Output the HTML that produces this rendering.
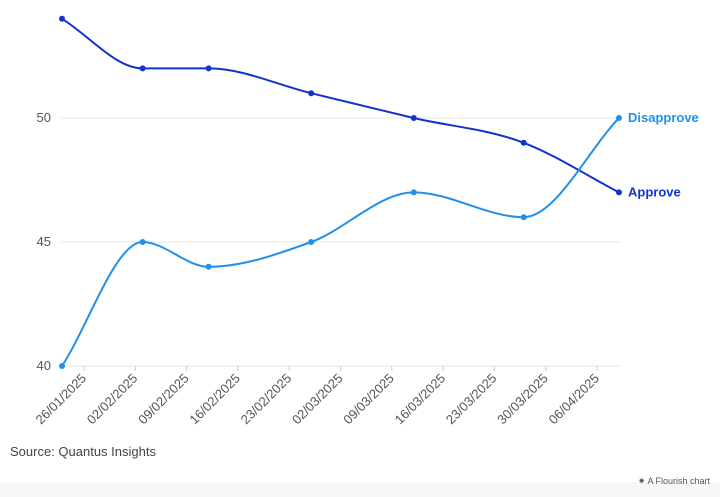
<!DOCTYPE html>
<html><head><meta charset="utf-8"><style>
html,body{margin:0;padding:0;background:#fff;width:720px;height:497px;overflow:hidden;font-family:"Liberation Sans",sans-serif;}
</style></head><body>
<svg id="chart" width="720" height="497" viewBox="0 0 720 497" xmlns="http://www.w3.org/2000/svg">
<rect x="0" y="482" width="720" height="15" fill="#f7f7f7"/>
<g id="grid"></g><g id="xaxis"></g><g id="series"></g>
<text x="10" y="456" font-size="13" fill="#444">Source: Quantus Insights</text>
<text x="710" y="484" font-size="9" fill="#555" text-anchor="end">✷ A Flourish chart</text>
</svg>
<script>
const tickLabels=["26/01/2025","02/02/2025","09/02/2025","16/02/2025","23/02/2025","02/03/2025","09/03/2025","16/03/2025","23/03/2025","30/03/2025","06/04/2025"];
const yTicks=[40,45,50];
const pointDays=[-3,8,17,31,45,60,73];
const approve=[54,52,52,51,50,49,47];
const disapprove=[40,45,44,45,47,46,50];
const NS="http://www.w3.org/2000/svg";
const x=d=>84+d*(513/70);
const y=v=>366-(v-40)*24.8;
function mk(t,a,p){const e=document.createElementNS(NS,t);for(const k in a)e.setAttribute(k,a[k]);p.appendChild(e);return e;}
const grid=document.getElementById('grid');
yTicks.forEach(v=>{
 const l=mk('line',{x1:61,x2:621,y1:y(v),y2:y(v),stroke:'#e6e6e6','stroke-width':1},grid);
 
 
 const t=mk('text',{x:51,y:y(v)+4,'text-anchor':'end','font-size':13,fill:'#555'},grid);
 t.textContent=v;
 
 
});
const xa=document.getElementById('xaxis');
tickLabels.forEach((s,i)=>{
 const px=x(i*7);
 const tk=mk('line',{x1:px,x2:px,y1:366,y2:371,stroke:'#ccc'},xa);
 
 
 const t=mk('text',{x:px+3,y:379,'text-anchor':'end','font-size':13,fill:'#555',transform:`rotate(-45 ${px+3} 379)`},xa);
 t.textContent=s;
 
 
});
function curve(pts){ // monotone X (Fritsch-Carlson)
 const n=pts.length,dx=[],s=[],m=[];
 for(let i=0;i<n-1;i++){dx[i]=pts[i+1][0]-pts[i][0];s[i]=(pts[i+1][1]-pts[i][1])/dx[i];}
 for(let i=0;i<n;i++){
  if(i===0)m[i]=s[0];else if(i===n-1)m[i]=s[n-2];
  else if(s[i-1]*s[i]<=0)m[i]=0;
  else{const h0=dx[i-1],h1=dx[i];const p=(s[i-1]*h1+s[i]*h0)/(h0+h1);m[i]=(Math.sign(s[i-1])+Math.sign(s[i]))*Math.min(Math.abs(s[i-1]),Math.abs(s[i]),0.5*Math.abs(p));}
 }
 let d=`M${pts[0][0]},${pts[0][1]}`;
 for(let i=0;i<n-1;i++){
  const h=dx[i]/3;
  d+=` C${pts[i][0]+h},${pts[i][1]+m[i]*h} ${pts[i+1][0]-h},${pts[i+1][1]-m[i+1]*h} ${pts[i+1][0]},${pts[i+1][1]}`;
 }
 return d;
}
const sg=document.getElementById('series');
[[approve,'#1433c8','Approve'],[disapprove,'#2290e8','Disapprove']].forEach(([vals,c,name])=>{
 const pts=vals.map((v,i)=>[x(pointDays[i]),y(v)]);
 const p=mk('path',{d:curve(pts),fill:'none',stroke:c,'stroke-width':2},sg);
 
 
 pts.forEach(q=>{
  const ci=mk('circle',{cx:q[0],cy:q[1],r:3,fill:c},sg);
  
  
 });
 const last=pts[pts.length-1];
 const t=mk('text',{x:last[0]+9,y:last[1]+4,'font-size':13,'font-weight':'bold',fill:c},sg);
 t.textContent=name;
 
 
});
</script>
</body></html>
